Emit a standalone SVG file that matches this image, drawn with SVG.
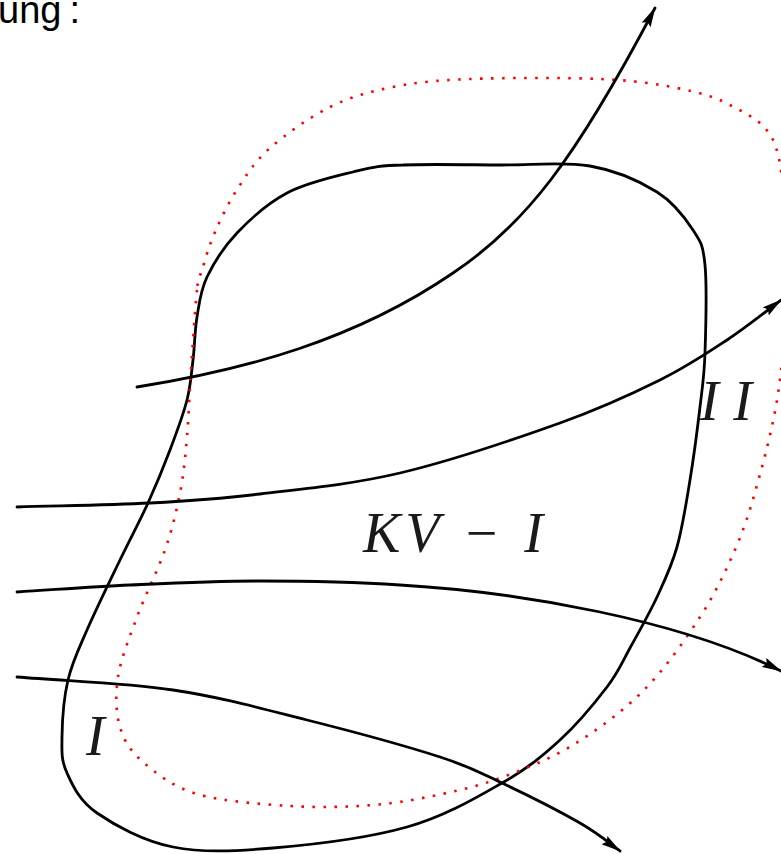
<svg xmlns="http://www.w3.org/2000/svg" width="781" height="854" viewBox="0 0 781 854">
<style>
.cv{fill:none;stroke:#000;stroke-width:2.8;stroke-linejoin:round}
.cvdt{fill:none;stroke:#ff0000;stroke-width:2.6;stroke-dasharray:2.5 8.5;stroke-linecap:butt}
.sl{fill:none;stroke:#000;stroke-width:2.8;stroke-linecap:round;marker-end:url(#arr)}
.math{font-family:"Liberation Serif","Times New Roman",serif;font-style:italic;font-size:56px;fill:#1a1a1a}
.cap{font-family:"Liberation Sans",Arial,sans-serif;font-size:38px;fill:#000}
</style>
<defs>
<marker id="arr" markerUnits="userSpaceOnUse" viewBox="0 0 20 11" refX="19" refY="5.5" markerWidth="20" markerHeight="11" orient="auto">
<path d="M0,0.5 L20,5.5 L0,10.5 L3,5.5 Z" fill="#000"/>
</marker>
</defs>
<rect width="781" height="854" fill="#fff"/>
<text class="cap" x="-2" y="23">ung<tspan dx="8">:</tspan></text>
<g id="control-volume-t">
<path class="cv" d="M 403,165 C 427.5,163.8 468.8,164.8 500,165 C 531.2,165.2 563.8,161.5 590,166 C 616.2,170.5 639.8,181.3 657,192 C 674.2,202.7 685,217.8 693,230 C 701,242.2 703,244.5 705,265 C 707,285.5 705.8,329.3 705,353 C 704.2,376.7 702.5,385.8 700,407 C 697.5,428.2 693.8,456.7 690,480 C 686.2,503.3 682.5,527.5 677,547 C 671.5,566.5 664.8,580.2 657,597 C 649.2,613.8 638.3,633 630,648 C 621.7,663 618.7,671.7 607,687 C 595.3,702.3 577.5,724 560,740 C 542.5,756 527.5,768.5 502,783 C 476.5,797.5 445.2,816.2 407,827 C 368.8,837.8 312,844.7 273,848 C 234,851.3 202.3,852.8 173,847 C 143.7,841.2 114.7,825.3 97,813 C 79.3,800.7 72.8,785.7 67,773 C 61.2,760.3 61.8,752.5 62,737 C 62.2,721.5 63.8,697.8 68,680 C 72.2,662.2 78.3,650 87,630 C 95.7,610 109.8,581.2 120,560 C 130.2,538.8 139.7,521.3 148,503 C 156.3,484.7 163.5,467.2 170,450 C 176.5,432.8 183.2,415 187,400 C 190.8,385 191.3,373.8 193,360 C 194.7,346.2 194.7,330.8 197,317 C 199.3,303.2 200.3,291 207,277 C 213.7,263 223.7,247 237,233 C 250.3,219 267.7,203.2 287,193 C 306.3,182.8 333.7,176.7 353,172 C 372.3,167.3 378.5,165.3 403,165 Z"/>
</g>
<g id="control-volume-t-dt">
<path class="cvdt" d="M 197,290 C 195.2,306.7 192.7,345.5 191,370 C 189.3,394.5 188.8,416.5 187,437 C 185.2,457.5 183.7,474.2 180,493 C 176.3,511.8 172.2,529.3 165,550 C 157.8,570.7 144.8,595.8 137,617 C 129.2,638.2 120.8,658.7 118,677 C 115.2,695.7 115.8,712.8 120,727 C 124.2,741.2 130.2,750.8 143,762 C 155.8,773.2 172.5,786.7 197,794 C 221.5,801.3 260.7,804.2 290,806 C 319.3,807.8 347.7,807 373,805 C 398.3,803 420.3,798.7 442,794 C 463.7,789.3 481.2,785.2 503,777 C 524.8,768.8 549.7,759.3 573,745 C 596.3,730.7 621.8,712.3 643,691 C 664.2,669.7 684.3,641.3 700,617 C 715.7,592.7 727.2,568.2 737,545 C 746.8,521.8 752.3,502.2 759,478 C 765.7,453.8 772.7,426.3 777,400 C 781.3,373.7 783.7,350 785,320 C 786.3,290 787,250 785,220 C 783,190 782.2,159.2 773,140 C 763.8,120.8 746,113.7 730,105 C 714,96.3 698.7,92.3 677,88 C 655.3,83.7 634.5,80.5 600,79 C 565.5,77.5 504.5,77.7 470,79 C 435.5,80.3 416.3,82.3 393,87 C 369.7,91.7 350.5,96.8 330,107 C 309.5,117.2 285.3,134.5 270,148 C 254.7,161.5 247.2,174 238,188 C 228.8,202 221,218.3 215,232 C 209,245.7 205,260.3 202,270 C 199,279.7 198.8,273.3 197,290 Z"/>
</g>
<g id="streamlines">
<path class="sl" d="M 137,387 C 245,370 355,340 453,273 C 525,225 575,160 655,8"/>
<path class="sl" d="M 17,507 C 61.3,505.7 109.5,505.2 150,503 C 190.5,500.8 218.3,499 260,494 C 301.7,489 350,484.8 400,473 C 450,461.2 516.7,438.5 560,423 C 603.3,407.5 632.2,393.8 660,380 C 687.8,366.2 706.8,353.3 727,340 C 747.2,326.7 772,306.7 781,300"/>
<path class="sl" d="M 17,592 C 54.7,589.7 89.5,586.8 130,585 C 170.5,583.2 215,581 260,581 C 305,581 352.2,581.8 400,585 C 520,592 680,620 781,671"/>
<path class="sl" d="M 17,677 C 69,681.3 124.7,682.8 173,690 C 221.3,697.2 262.5,708.8 307,720 C 351.5,731.2 407.5,746.5 440,757 C 472.5,767.5 478.7,772 502,783 C 525.3,794 560.3,811.7 580,823 C 599.7,834.3 613.3,846.3 620,851"/>
</g>
<g id="labels">
<text class="math" x="363" y="552" textLength="180" lengthAdjust="spacing">KV − I</text>
<text class="math" x="700" y="420" textLength="52" lengthAdjust="spacing">II</text>
<text class="math" x="86" y="755">I</text>
</g>
</svg>
